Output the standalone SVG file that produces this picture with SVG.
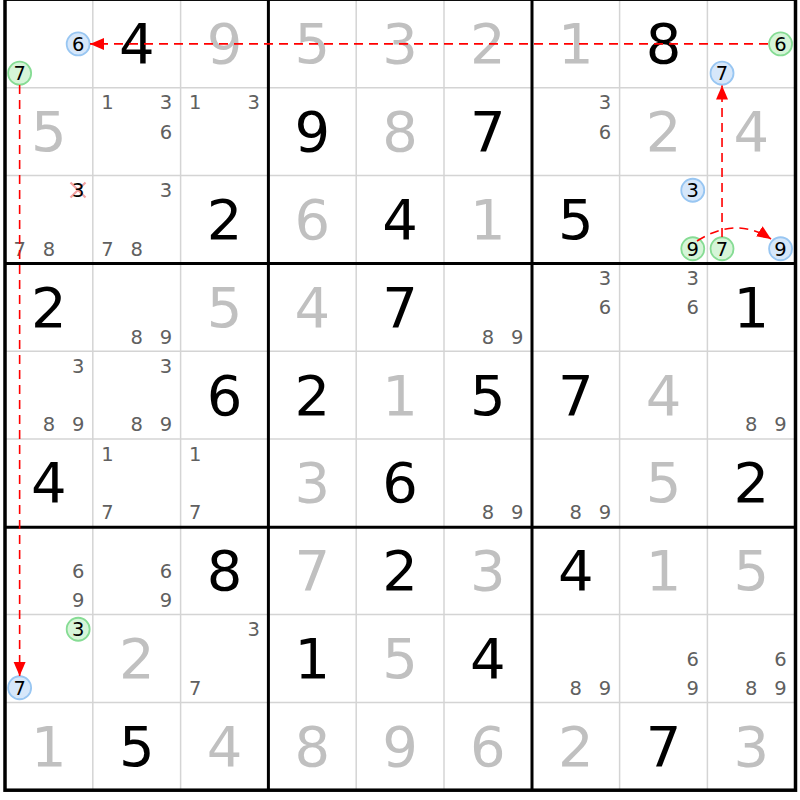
<svg xmlns="http://www.w3.org/2000/svg" width="800" height="800" viewBox="0 0 800 800">
<style>
.g{font-family:"DejaVu Sans",Verdana,sans-serif;font-size:56px;fill:#000;text-anchor:middle}
.s{font-family:"DejaVu Sans",Verdana,sans-serif;font-size:56px;fill:#c0c0c0;text-anchor:middle}
.c{font-family:"DejaVu Sans",Verdana,sans-serif;font-size:19.5px;fill:#606060;text-anchor:middle}
.k{font-family:"DejaVu Sans",Verdana,sans-serif;font-size:19.5px;fill:#000;text-anchor:middle}
.thin{stroke:#d4d4d4;stroke-width:1.5}
.thick{stroke:#000;stroke-width:3}
.blue{fill:#d6e7fa;stroke:#98c6f2;stroke-width:1.8}
.green{fill:#d6f5d8;stroke:#86dc94;stroke-width:1.8}
.link{fill:none;stroke:#ff0000;stroke-width:1.6;stroke-dasharray:9,6;marker-end:url(#ah)}
</style>
<defs>
<marker id="ah" markerUnits="userSpaceOnUse" markerWidth="15" markerHeight="13" refX="14" refY="6" orient="auto"><path d="M0,0 L14,6 L0,12 z" fill="#ff0000"/></marker>
</defs>
<rect x="0" y="0" width="800" height="800" fill="#fff"/>
<g id="grid">
<g class="thin">
<line x1="92.8" y1="0" x2="92.8" y2="790"/><line x1="180.6" y1="0" x2="180.6" y2="790"/>
<line x1="356.2" y1="0" x2="356.2" y2="790"/><line x1="444" y1="0" x2="444" y2="790"/>
<line x1="619.6" y1="0" x2="619.6" y2="790"/><line x1="707.4" y1="0" x2="707.4" y2="790"/>
<line x1="5" y1="87.8" x2="795" y2="87.8"/><line x1="5" y1="175.6" x2="795" y2="175.6"/>
<line x1="5" y1="351.2" x2="795" y2="351.2"/><line x1="5" y1="439" x2="795" y2="439"/>
<line x1="5" y1="614.6" x2="795" y2="614.6"/><line x1="5" y1="702.4" x2="795" y2="702.4"/>
</g>
<g class="thick">
<line x1="268.4" y1="0" x2="268.4" y2="790"/><line x1="532" y1="0" x2="532" y2="790"/>
<line x1="5" y1="263.6" x2="795" y2="263.6"/><line x1="5" y1="527.2" x2="795" y2="527.2"/>
</g>
<rect x="5" y="-0.8" width="790.5" height="791" fill="none" stroke="#000" stroke-width="3.5"/>
</g>
<g id="cells">
<g id="r0c0"><circle class="blue" cx="78.17" cy="43.9" r="11.5"/><text class="k" x="78.17" y="50.9">6</text><circle class="green" cx="19.63" cy="73.17" r="11.5"/><text class="k" x="19.63" y="80.17">7</text></g>
<g id="r0c1"><text class="g" x="136.7" y="63.4">4</text></g>
<g id="r0c2"><text class="s" x="224.5" y="63.4">9</text></g>
<g id="r0c3"><text class="s" x="312.3" y="63.4">5</text></g>
<g id="r0c4"><text class="s" x="400.1" y="63.4">3</text></g>
<g id="r0c5"><text class="s" x="487.9" y="63.4">2</text></g>
<g id="r0c6"><text class="s" x="575.7" y="63.4">1</text></g>
<g id="r0c7"><text class="g" x="663.5" y="63.4">8</text></g>
<g id="r0c8"><circle class="green" cx="780.57" cy="43.9" r="11.5"/><text class="k" x="780.57" y="50.9">6</text><circle class="blue" cx="722.03" cy="73.17" r="11.5"/><text class="k" x="722.03" y="80.17">7</text></g>

<g id="r1c0"><text class="s" x="48.9" y="151.2">5</text></g>
<g id="r1c1"><text class="c" x="107.43" y="109.43">1</text><text class="c" x="165.97" y="109.43">3</text><text class="c" x="165.97" y="138.7">6</text></g>
<g id="r1c2"><text class="c" x="195.23" y="109.43">1</text><text class="c" x="253.77" y="109.43">3</text></g>
<g id="r1c3"><text class="g" x="312.3" y="151.2">9</text></g>
<g id="r1c4"><text class="s" x="400.1" y="151.2">8</text></g>
<g id="r1c5"><text class="g" x="487.9" y="151.2">7</text></g>
<g id="r1c6"><text class="c" x="604.97" y="109.43">3</text><text class="c" x="604.97" y="138.7">6</text></g>
<g id="r1c7"><text class="s" x="663.5" y="151.2">2</text></g>
<g id="r1c8"><text class="s" x="751.3" y="151.2">4</text></g>

<g id="r2c0"><path d="M70.5,182.5 L85.5,197.5 M85.5,182.5 L70.5,197.5" stroke="#f3a3a3" stroke-width="2.2" fill="none"/><text class="k" x="78.17" y="197.23">3</text><text class="c" x="19.63" y="255.77">7</text><text class="c" x="48.9" y="255.77">8</text></g>
<g id="r2c1"><text class="c" x="165.97" y="197.23">3</text><text class="c" x="107.43" y="255.77">7</text><text class="c" x="136.7" y="255.77">8</text></g>
<g id="r2c2"><text class="g" x="224.5" y="239">2</text></g>
<g id="r2c3"><text class="s" x="312.3" y="239">6</text></g>
<g id="r2c4"><text class="g" x="400.1" y="239">4</text></g>
<g id="r2c5"><text class="s" x="487.9" y="239">1</text></g>
<g id="r2c6"><text class="g" x="575.7" y="239">5</text></g>
<g id="r2c7"><circle class="blue" cx="692.77" cy="190.23" r="11.5"/><text class="k" x="692.77" y="197.23">3</text><circle class="green" cx="692.77" cy="248.77" r="11.5"/><text class="k" x="692.77" y="255.77">9</text></g>
<g id="r2c8"><circle class="green" cx="722.03" cy="248.77" r="11.5"/><text class="k" x="722.03" y="255.77">7</text><circle class="blue" cx="780.57" cy="248.77" r="11.5"/><text class="k" x="780.57" y="255.77">9</text></g>

<g id="r3c0"><text class="g" x="48.9" y="326.8">2</text></g>
<g id="r3c1"><text class="c" x="136.7" y="343.57">8</text><text class="c" x="165.97" y="343.57">9</text></g>
<g id="r3c2"><text class="s" x="224.5" y="326.8">5</text></g>
<g id="r3c3"><text class="s" x="312.3" y="326.8">4</text></g>
<g id="r3c4"><text class="g" x="400.1" y="326.8">7</text></g>
<g id="r3c5"><text class="c" x="487.9" y="343.57">8</text><text class="c" x="517.17" y="343.57">9</text></g>
<g id="r3c6"><text class="c" x="604.97" y="285.03">3</text><text class="c" x="604.97" y="314.3">6</text></g>
<g id="r3c7"><text class="c" x="692.77" y="285.03">3</text><text class="c" x="692.77" y="314.3">6</text></g>
<g id="r3c8"><text class="g" x="751.3" y="326.8">1</text></g>

<g id="r4c0"><text class="c" x="78.17" y="372.83">3</text><text class="c" x="48.9" y="431.37">8</text><text class="c" x="78.17" y="431.37">9</text></g>
<g id="r4c1"><text class="c" x="165.97" y="372.83">3</text><text class="c" x="136.7" y="431.37">8</text><text class="c" x="165.97" y="431.37">9</text></g>
<g id="r4c2"><text class="g" x="224.5" y="414.6">6</text></g>
<g id="r4c3"><text class="g" x="312.3" y="414.6">2</text></g>
<g id="r4c4"><text class="s" x="400.1" y="414.6">1</text></g>
<g id="r4c5"><text class="g" x="487.9" y="414.6">5</text></g>
<g id="r4c6"><text class="g" x="575.7" y="414.6">7</text></g>
<g id="r4c7"><text class="s" x="663.5" y="414.6">4</text></g>
<g id="r4c8"><text class="c" x="751.3" y="431.37">8</text><text class="c" x="780.57" y="431.37">9</text></g>

<g id="r5c0"><text class="g" x="48.9" y="502.4">4</text></g>
<g id="r5c1"><text class="c" x="107.43" y="460.63">1</text><text class="c" x="107.43" y="519.17">7</text></g>
<g id="r5c2"><text class="c" x="195.23" y="460.63">1</text><text class="c" x="195.23" y="519.17">7</text></g>
<g id="r5c3"><text class="s" x="312.3" y="502.4">3</text></g>
<g id="r5c4"><text class="g" x="400.1" y="502.4">6</text></g>
<g id="r5c5"><text class="c" x="487.9" y="519.17">8</text><text class="c" x="517.17" y="519.17">9</text></g>
<g id="r5c6"><text class="c" x="575.7" y="519.17">8</text><text class="c" x="604.97" y="519.17">9</text></g>
<g id="r5c7"><text class="s" x="663.5" y="502.4">5</text></g>
<g id="r5c8"><text class="g" x="751.3" y="502.4">2</text></g>

<g id="r6c0"><text class="c" x="78.17" y="577.7">6</text><text class="c" x="78.17" y="606.97">9</text></g>
<g id="r6c1"><text class="c" x="165.97" y="577.7">6</text><text class="c" x="165.97" y="606.97">9</text></g>
<g id="r6c2"><text class="g" x="224.5" y="590.2">8</text></g>
<g id="r6c3"><text class="s" x="312.3" y="590.2">7</text></g>
<g id="r6c4"><text class="g" x="400.1" y="590.2">2</text></g>
<g id="r6c5"><text class="s" x="487.9" y="590.2">3</text></g>
<g id="r6c6"><text class="g" x="575.7" y="590.2">4</text></g>
<g id="r6c7"><text class="s" x="663.5" y="590.2">1</text></g>
<g id="r6c8"><text class="s" x="751.3" y="590.2">5</text></g>

<g id="r7c0"><circle class="green" cx="78.17" cy="629.23" r="11.5"/><text class="k" x="78.17" y="636.23">3</text><circle class="blue" cx="19.63" cy="687.77" r="11.5"/><text class="k" x="19.63" y="694.77">7</text></g>
<g id="r7c1"><text class="s" x="136.7" y="678">2</text></g>
<g id="r7c2"><text class="c" x="253.77" y="636.23">3</text><text class="c" x="195.23" y="694.77">7</text></g>
<g id="r7c3"><text class="g" x="312.3" y="678">1</text></g>
<g id="r7c4"><text class="s" x="400.1" y="678">5</text></g>
<g id="r7c5"><text class="g" x="487.9" y="678">4</text></g>
<g id="r7c6"><text class="c" x="575.7" y="694.77">8</text><text class="c" x="604.97" y="694.77">9</text></g>
<g id="r7c7"><text class="c" x="692.77" y="665.5">6</text><text class="c" x="692.77" y="694.77">9</text></g>
<g id="r7c8"><text class="c" x="780.57" y="665.5">6</text><text class="c" x="751.3" y="694.77">8</text><text class="c" x="780.57" y="694.77">9</text></g>

<g id="r8c0"><text class="s" x="48.9" y="765.8">1</text></g>
<g id="r8c1"><text class="g" x="136.7" y="765.8">5</text></g>
<g id="r8c2"><text class="s" x="224.5" y="765.8">4</text></g>
<g id="r8c3"><text class="s" x="312.3" y="765.8">8</text></g>
<g id="r8c4"><text class="s" x="400.1" y="765.8">9</text></g>
<g id="r8c5"><text class="s" x="487.9" y="765.8">6</text></g>
<g id="r8c6"><text class="s" x="575.7" y="765.8">2</text></g>
<g id="r8c7"><text class="g" x="663.5" y="765.8">7</text></g>
<g id="r8c8"><text class="s" x="751.3" y="765.8">3</text></g>
</g>
<g id="connectors">
<path class="link" d="M768,43.9 L90,43.9"/>
<path class="link" d="M19.63,85 L19.63,676"/>
<path class="link" d="M722.03,237 L722.03,85.5"/>
<path class="link" d="M697,241 Q736,216 771,239"/>
</g>
</svg>
